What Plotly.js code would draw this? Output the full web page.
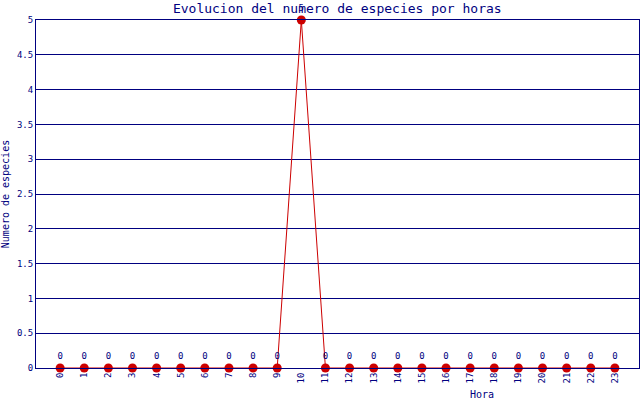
<!DOCTYPE html>
<html>
<head>
<meta charset="utf-8">
<script src="https://cdn.plot.ly/plotly-3.0.1.min.js"></script>
<style>html,body{margin:0;padding:0;background:#fff;}#chart{width:640px;height:400px;}</style>
</head>
<body>
<div id="chart"></div>
<script>
const horas = [0,1,2,3,4,5,6,7,8,9,10,11,12,13,14,15,16,17,18,19,20,21,22,23];
const especies = [0,0,0,0,0,0,0,0,0,0,5,0,0,0,0,0,0,0,0,0,0,0,0,0];
const yTicks = [0,0.5,1,1.5,2,2.5,3,3.5,4,4.5,5];
const titulo = "Evolucion del numero de especies por horas";
const ejeX = "Hora";
const ejeY = "Numero de especies";

const navy = "#000080";
const red = "#cc0000";
const fontFam = "DejaVu Sans Mono, monospace";

const trace = {
  x: horas,
  y: especies,
  type: "scatter",
  mode: "lines+markers+text",
  line: {color: red, width: 1},
  marker: {color: red, size: 9},
  text: especies.map(String),
  textposition: "top center",
  textfont: {family: fontFam, size: 9, color: navy},
  cliponaxis: false,
  hoverinfo: "none"
};

const layout = {
  width: 640, height: 400,
  margin: {l: 36, r: 1, t: 20, b: 32},
  paper_bgcolor: "#fff",
  plot_bgcolor: "#fff",
  showlegend: false,
  font: {family: fontFam, color: navy, size: 9},
  title: {text: titulo, font: {family: fontFam, size: 13, color: navy}, x: 0.527, xanchor: "center", y: 0.978, yanchor: "middle"},
  xaxis: {
    range: [-1, 24],
    tickmode: "array",
    tickvals: horas,
    ticktext: horas.map(String),
    tickangle: -90,
    tickfont: {family: fontFam, size: 9, color: navy},
    showgrid: false,
    zeroline: false,
    showline: true,
    linecolor: navy,
    linewidth: 1,
    mirror: true,
    ticks: "",
    fixedrange: true
  },
  yaxis: {
    range: [0, 5],
    tickmode: "array",
    tickvals: yTicks,
    ticktext: yTicks.map(String),
    tickfont: {family: fontFam, size: 9, color: navy},
    showgrid: true,
    gridcolor: navy,
    gridwidth: 1,
    zeroline: false,
    showline: true,
    linecolor: navy,
    mirror: true,
    ticks: "",
    ticklen: 0,
    title: {text: ejeY, font: {family: fontFam, size: 10, color: navy}, standoff: 12},
    fixedrange: true
  },
  annotations: [{
    text: ejeX, xref: "paper", yref: "paper", x: 0.74, y: 0, yshift: -26,
    xanchor: "center", yanchor: "middle", showarrow: false,
    font: {family: fontFam, size: 10, color: navy}
  }]
};

Plotly.newPlot("chart", [trace], layout, {displayModeBar: false, staticPlot: true});
</script>
</body>
</html>
